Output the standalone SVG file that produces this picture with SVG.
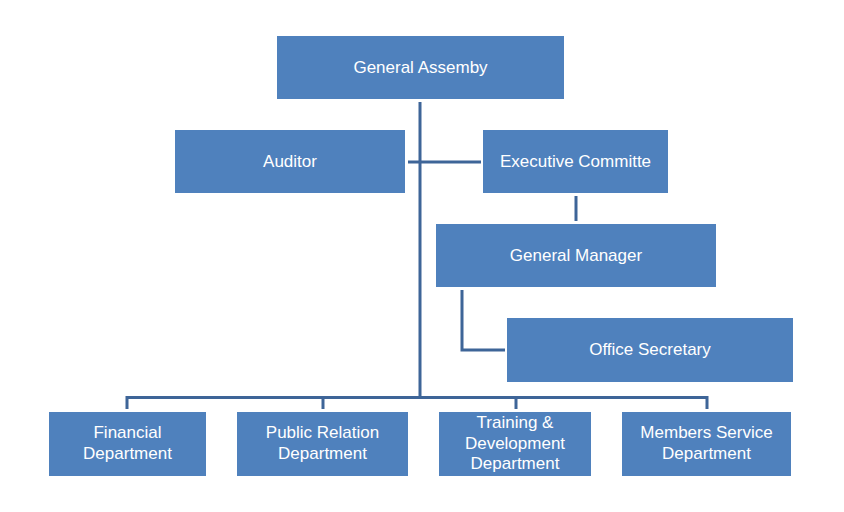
<svg xmlns="http://www.w3.org/2000/svg" width="844" height="512" viewBox="0 0 844 512">
<style>
.box{fill:#4F81BD}
.t{fill:#FFFFFF;font-family:"Liberation Sans",Arial,sans-serif;font-size:17px;text-anchor:middle}
.c{fill:none;stroke:#3E6598;stroke-width:3}
</style>
<rect width="844" height="512" fill="#FFFFFF"/>
<g id="connectors">
<line class="c" x1="420" y1="102" x2="420" y2="397"/>
<line class="c" x1="408" y1="162" x2="481" y2="162"/>
<line class="c" x1="576" y1="196" x2="576" y2="221"/>
<polyline class="c" points="462,290 462,350 505,350"/>
<polyline class="c" points="127,409 127,397.5 707,397.5 707,409"/>
<line class="c" x1="323" y1="397.5" x2="323" y2="409"/>
<line class="c" x1="516" y1="397.5" x2="516" y2="409"/>
</g>
<g id="general-assembly"><rect class="box" x="277" y="36" width="287" height="63"/><text class="t" x="420.5" y="72.5">General Assemby</text></g>
<g id="auditor"><rect class="box" x="175" y="130" width="230" height="63"/><text class="t" x="290" y="166.5">Auditor</text></g>
<g id="executive-committe"><rect class="box" x="483" y="130" width="185" height="63"/><text class="t" x="575.5" y="166.5">Executive Committe</text></g>
<g id="general-manager"><rect class="box" x="436" y="224" width="280" height="63"/><text class="t" x="576" y="261">General Manager</text></g>
<g id="office-secretary"><rect class="box" x="507" y="318" width="286" height="64"/><text class="t" x="650" y="355">Office Secretary</text></g>
<g id="financial-department"><rect class="box" x="49" y="412" width="157" height="64"/><text class="t" x="127.5" y="438">Financial</text><text class="t" x="127.5" y="459">Department</text></g>
<g id="public-relation-department"><rect class="box" x="237" y="412" width="171" height="64"/><text class="t" x="322.5" y="438">Public Relation</text><text class="t" x="322.5" y="459">Department</text></g>
<g id="training-development-department"><rect class="box" x="439" y="412" width="152" height="64"/><text class="t" x="515" y="428">Training &amp;</text><text class="t" x="515" y="448.5">Development</text><text class="t" x="515" y="469">Department</text></g>
<g id="members-service-department"><rect class="box" x="622" y="412" width="169" height="64"/><text class="t" x="706.5" y="438">Members Service</text><text class="t" x="706.5" y="459">Department</text></g>
</svg>
